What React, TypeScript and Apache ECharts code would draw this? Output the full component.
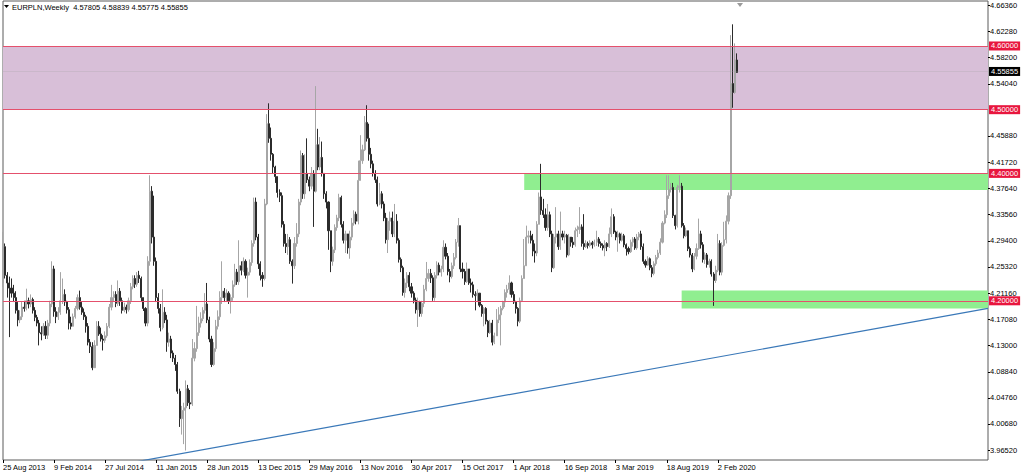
import React, { useEffect, useRef } from 'react';
import * as echarts from 'echarts';

const START_DATE = Date.UTC(2013, 7, 25);
const N_SLOTS = 464;
const MONTHS = ['Jan', 'Feb', 'Mar', 'Apr', 'May', 'Jun', 'Jul', 'Aug', 'Sep', 'Oct', 'Nov', 'Dec'];
const OPEN0 = 4.228;

const CLOSE = [
  4.285, 4.240, 4.228, 4.220, 4.212, 4.205, 4.185, 4.170, 4.175, 4.190,
  4.188, 4.200, 4.195, 4.202, 4.185, 4.174, 4.165, 4.150, 4.148, 4.160,
  4.146, 4.165, 4.195, 4.250, 4.183, 4.175, 4.182, 4.200, 4.210, 4.198,
  4.186, 4.165, 4.160, 4.175, 4.188, 4.205, 4.190, 4.182, 4.175, 4.160,
  4.135, 4.128, 4.095, 4.130, 4.160, 4.148, 4.140, 4.138, 4.145, 4.160,
  4.190, 4.205, 4.210, 4.196, 4.215, 4.200, 4.185, 4.190, 4.186, 4.200,
  4.222, 4.235, 4.226, 4.240, 4.235, 4.205, 4.188, 4.165, 4.262, 4.372,
  4.300, 4.262, 4.205, 4.188, 4.158, 4.182, 4.170, 4.135, 4.140, 4.118,
  4.110, 4.100, 4.058, 4.015, 4.028, 4.032, 4.062, 4.040, 4.038, 4.110,
  4.125, 4.150, 4.165, 4.172, 4.185, 4.195, 4.170, 4.140, 4.100, 4.125,
  4.160, 4.175, 4.205, 4.215, 4.205, 4.212, 4.200, 4.205, 4.225, 4.245,
  4.230, 4.255, 4.248, 4.262, 4.240, 4.245, 4.260, 4.290, 4.355, 4.300,
  4.258, 4.240, 4.235, 4.352, 4.478, 4.455, 4.430, 4.410, 4.395, 4.370,
  4.365, 4.320, 4.290, 4.285, 4.296, 4.262, 4.255, 4.290, 4.305, 4.355,
  4.428, 4.368, 4.400, 4.390, 4.380, 4.400, 4.372, 4.445, 4.410, 4.425,
  4.400, 4.368, 4.355, 4.310, 4.262, 4.280, 4.315, 4.330, 4.362, 4.320,
  4.295, 4.305, 4.283, 4.300, 4.322, 4.336, 4.325, 4.389, 4.420, 4.437,
  4.480, 4.455, 4.430, 4.415, 4.400, 4.390, 4.352, 4.368, 4.352, 4.330,
  4.296, 4.325, 4.330, 4.305, 4.325, 4.295, 4.265, 4.252, 4.213, 4.228,
  4.240, 4.222, 4.212, 4.201, 4.186, 4.198, 4.180, 4.196, 4.218, 4.235,
  4.243, 4.236, 4.205, 4.240, 4.256, 4.245, 4.250, 4.284, 4.270, 4.246,
  4.238, 4.255, 4.268, 4.292, 4.318, 4.250, 4.246, 4.230, 4.250, 4.228,
  4.225, 4.210, 4.208, 4.212, 4.193, 4.180, 4.188, 4.168, 4.150, 4.165,
  4.135, 4.145, 4.170, 4.178, 4.188, 4.198, 4.213, 4.218, 4.228, 4.210,
  4.198, 4.188, 4.168, 4.200, 4.235, 4.255, 4.300, 4.302, 4.295, 4.278,
  4.275, 4.320, 4.363, 4.342, 4.335, 4.315, 4.335, 4.305, 4.252, 4.300,
  4.305, 4.285, 4.305, 4.300, 4.303, 4.272, 4.300, 4.292, 4.288, 4.310,
  4.312, 4.316, 4.290, 4.285, 4.290, 4.287, 4.291, 4.288, 4.292, 4.297,
  4.290, 4.287, 4.283, 4.290, 4.285, 4.305, 4.332, 4.308, 4.300, 4.305,
  4.295, 4.302, 4.288, 4.282, 4.277, 4.292, 4.297, 4.283, 4.300, 4.305,
  4.285, 4.262, 4.256, 4.266, 4.252, 4.243, 4.258, 4.268, 4.275, 4.292,
  4.322, 4.335, 4.365, 4.375, 4.378, 4.334, 4.318, 4.378, 4.380, 4.318,
  4.302, 4.310, 4.282, 4.272, 4.250, 4.270, 4.282, 4.305, 4.288, 4.265,
  4.272, 4.257, 4.262, 4.242, 4.232, 4.248, 4.290, 4.245, 4.287, 4.296,
  4.325, 4.365, 4.541, 4.527, 4.578, 4.55855,
];

const HIGH = [
  4.308, 4.290, 4.245, 4.238, 4.235, 4.225, 4.215, 4.198, 4.185, 4.198,
  4.200, 4.219, 4.205, 4.210, 4.205, 4.190, 4.178, 4.170, 4.160, 4.165,
  4.168, 4.170, 4.200, 4.262, 4.255, 4.190, 4.190, 4.245, 4.235, 4.218,
  4.200, 4.190, 4.175, 4.180, 4.192, 4.210, 4.216, 4.198, 4.188, 4.178,
  4.165, 4.140, 4.135, 4.138, 4.168, 4.168, 4.158, 4.146, 4.152, 4.165,
  4.195, 4.225, 4.215, 4.215, 4.232, 4.220, 4.205, 4.197, 4.194, 4.205,
  4.228, 4.240, 4.240, 4.245, 4.247, 4.238, 4.200, 4.190, 4.270, 4.397,
  4.380, 4.365, 4.268, 4.212, 4.195, 4.218, 4.190, 4.178, 4.150, 4.145,
  4.122, 4.115, 4.104, 4.062, 4.035, 4.040, 4.075, 4.068, 4.060, 4.140,
  4.135, 4.192, 4.175, 4.182, 4.190, 4.212, 4.228, 4.175, 4.145, 4.135,
  4.170, 4.185, 4.215, 4.262, 4.220, 4.218, 4.215, 4.210, 4.232, 4.258,
  4.250, 4.295, 4.262, 4.268, 4.265, 4.252, 4.265, 4.295, 4.362, 4.362,
  4.305, 4.262, 4.245, 4.360, 4.493, 4.510, 4.472, 4.432, 4.412, 4.395,
  4.375, 4.370, 4.325, 4.305, 4.305, 4.300, 4.265, 4.300, 4.322, 4.360,
  4.436, 4.432, 4.430, 4.455, 4.395, 4.410, 4.405, 4.537, 4.470, 4.457,
  4.450, 4.400, 4.372, 4.356, 4.300, 4.285, 4.320, 4.335, 4.368, 4.365,
  4.325, 4.310, 4.305, 4.310, 4.330, 4.342, 4.340, 4.420, 4.460, 4.445,
  4.490, 4.507, 4.478, 4.440, 4.420, 4.405, 4.395, 4.385, 4.372, 4.356,
  4.338, 4.330, 4.340, 4.340, 4.352, 4.336, 4.298, 4.268, 4.255, 4.235,
  4.245, 4.245, 4.228, 4.215, 4.205, 4.205, 4.200, 4.200, 4.225, 4.261,
  4.250, 4.250, 4.240, 4.245, 4.262, 4.260, 4.255, 4.295, 4.290, 4.275,
  4.250, 4.260, 4.275, 4.297, 4.330, 4.310, 4.260, 4.250, 4.260, 4.250,
  4.235, 4.230, 4.215, 4.218, 4.210, 4.195, 4.190, 4.190, 4.170, 4.170,
  4.170, 4.150, 4.187, 4.190, 4.192, 4.200, 4.218, 4.225, 4.240, 4.230,
  4.215, 4.200, 4.190, 4.205, 4.240, 4.297, 4.318, 4.310, 4.310, 4.305,
  4.290, 4.325, 4.370, 4.415, 4.360, 4.345, 4.352, 4.340, 4.310, 4.305,
  4.347, 4.310, 4.340, 4.310, 4.310, 4.305, 4.305, 4.300, 4.300, 4.315,
  4.318, 4.347, 4.320, 4.336, 4.295, 4.293, 4.295, 4.294, 4.296, 4.310,
  4.300, 4.293, 4.290, 4.295, 4.292, 4.315, 4.345, 4.336, 4.310, 4.310,
  4.307, 4.307, 4.305, 4.290, 4.285, 4.296, 4.300, 4.300, 4.305, 4.308,
  4.310, 4.290, 4.265, 4.270, 4.268, 4.256, 4.262, 4.272, 4.280, 4.298,
  4.325, 4.342, 4.397, 4.397, 4.385, 4.385, 4.335, 4.382, 4.397, 4.385,
  4.322, 4.315, 4.310, 4.285, 4.275, 4.275, 4.290, 4.329, 4.310, 4.292,
  4.276, 4.275, 4.266, 4.265, 4.245, 4.255, 4.305, 4.295, 4.292, 4.324,
  4.334, 4.370, 4.617, 4.634, 4.604, 4.58839,
];

const LOW = [
  4.222, 4.235, 4.205, 4.143, 4.205, 4.198, 4.180, 4.160, 4.165, 4.170,
  4.183, 4.185, 4.188, 4.190, 4.180, 4.168, 4.160, 4.130, 4.138, 4.145,
  4.140, 4.140, 4.160, 4.190, 4.175, 4.165, 4.170, 4.178, 4.195, 4.192,
  4.180, 4.155, 4.155, 4.160, 4.172, 4.185, 4.186, 4.178, 4.170, 4.150,
  4.130, 4.118, 4.091, 4.098, 4.132, 4.145, 4.136, 4.122, 4.134, 4.142,
  4.157, 4.185, 4.198, 4.190, 4.192, 4.192, 4.180, 4.182, 4.180, 4.183,
  4.195, 4.218, 4.220, 4.222, 4.228, 4.198, 4.184, 4.160, 4.160, 4.255,
  4.290, 4.255, 4.198, 4.180, 4.152, 4.155, 4.165, 4.120, 4.128, 4.110,
  4.104, 4.090, 4.054, 4.002, 3.990, 3.975, 3.965, 4.035, 4.030, 4.035,
  4.105, 4.120, 4.145, 4.158, 4.168, 4.180, 4.165, 4.135, 4.096, 4.098,
  4.120, 4.155, 4.170, 4.195, 4.198, 4.198, 4.195, 4.180, 4.200, 4.222,
  4.225, 4.225, 4.240, 4.245, 4.235, 4.205, 4.240, 4.255, 4.285, 4.295,
  4.250, 4.232, 4.222, 4.232, 4.350, 4.448, 4.420, 4.400, 4.385, 4.362,
  4.355, 4.315, 4.285, 4.275, 4.272, 4.258, 4.227, 4.250, 4.285, 4.300,
  4.350, 4.360, 4.360, 4.385, 4.372, 4.375, 4.316, 4.370, 4.405, 4.405,
  4.395, 4.360, 4.345, 4.280, 4.245, 4.255, 4.275, 4.310, 4.325, 4.315,
  4.290, 4.275, 4.274, 4.266, 4.295, 4.318, 4.320, 4.320, 4.390, 4.415,
  4.435, 4.450, 4.420, 4.408, 4.395, 4.385, 4.348, 4.350, 4.345, 4.325,
  4.290, 4.275, 4.310, 4.300, 4.300, 4.290, 4.260, 4.245, 4.208, 4.205,
  4.220, 4.215, 4.205, 4.196, 4.180, 4.159, 4.175, 4.175, 4.190, 4.215,
  4.230, 4.228, 4.200, 4.200, 4.235, 4.240, 4.238, 4.245, 4.265, 4.240,
  4.229, 4.235, 4.250, 4.265, 4.285, 4.245, 4.235, 4.225, 4.228, 4.225,
  4.213, 4.205, 4.185, 4.198, 4.190, 4.175, 4.160, 4.163, 4.143, 4.148,
  4.130, 4.132, 4.145, 4.165, 4.130, 4.185, 4.190, 4.205, 4.210, 4.205,
  4.195, 4.180, 4.160, 4.165, 4.198, 4.240, 4.255, 4.290, 4.290, 4.270,
  4.260, 4.270, 4.320, 4.335, 4.330, 4.310, 4.310, 4.300, 4.245, 4.250,
  4.290, 4.280, 4.280, 4.295, 4.290, 4.268, 4.270, 4.285, 4.283, 4.285,
  4.300, 4.305, 4.285, 4.280, 4.283, 4.282, 4.284, 4.282, 4.285, 4.286,
  4.285, 4.283, 4.279, 4.270, 4.278, 4.283, 4.300, 4.305, 4.295, 4.277,
  4.290, 4.293, 4.284, 4.271, 4.273, 4.275, 4.285, 4.280, 4.280, 4.295,
  4.280, 4.258, 4.252, 4.255, 4.248, 4.237, 4.240, 4.255, 4.265, 4.272,
  4.290, 4.320, 4.330, 4.360, 4.370, 4.330, 4.312, 4.315, 4.370, 4.315,
  4.298, 4.300, 4.278, 4.268, 4.245, 4.248, 4.265, 4.280, 4.282, 4.260,
  4.258, 4.252, 4.252, 4.238, 4.192, 4.228, 4.245, 4.240, 4.240, 4.285,
  4.290, 4.320, 4.360, 4.503, 4.525, 4.55775,
];

const X_TICK_LABELS = [
  '25 Aug 2013', '9 Feb 2014', '27 Jul 2014', '11 Jan 2015', '28 Jun 2015',
  '13 Dec 2015', '29 May 2016', '13 Nov 2016', '30 Apr 2017', '15 Oct 2017',
  '1 Apr 2018', '16 Sep 2018', '3 Mar 2019', '18 Aug 2019', '2 Feb 2020',
];
const X_TICK_STEP = 24;
const Y_TICK_VALUES = [
  4.6636, 4.6228, 4.582, 4.5404, 4.4588, 4.4172, 4.3764, 4.3356, 4.294,
  4.2532, 4.2116, 4.1708, 4.13, 4.0884, 4.0476, 4.0068, 3.9652,
];
const Y_MIN = 3.9501;
const Y_MAX = 4.6706;
const LEVELS = [4.6, 4.5, 4.4, 4.2];
const LAST_PRICE = 4.55855;
const PINK_ZONE = [4.6, 4.5];
const GREEN_ZONES = [
  { fromIndex: 245, top: 4.4, bottom: 4.374 },
  { fromIndex: 319, top: 4.216, bottom: 4.188 },
];
const TREND = [
  { index: 62, value: 3.947 },
  { index: 463, value: 4.188 },
];
const HEADER = 'EURPLN,Weekly  4.57805 4.58839 4.55775 4.55855';

const FONT = '"Liberation Sans", Arial, sans-serif';

function buildCategories(): string[] {
  const out: string[] = [];
  for (let k = 0; k < N_SLOTS; k++) {
    const d = new Date(START_DATE + k * 7 * 86400000);
    out.push(`${d.getUTCDate()} ${MONTHS[d.getUTCMonth()]} ${d.getUTCFullYear()}`);
  }
  return out;
}

export default function App() {
  const ref = useRef<HTMLDivElement>(null);

  useEffect(() => {
    if (!ref.current) return;
    const chart = echarts.init(ref.current, null, { renderer: 'svg' });
    const categories = buildCategories();
    const candles = CLOSE.map((c, i) => {
      const o = i === 0 ? OPEN0 : CLOSE[i - 1];
      return [o, c, Math.min(LOW[i], o, c), Math.max(HIGH[i], o, c)];
    });
    const lastCat = categories[N_SLOTS - 1];
    const isTick = (idx: number) => idx % X_TICK_STEP === 0 && idx / X_TICK_STEP < X_TICK_LABELS.length;

    const option: any = {
      animation: false,
      backgroundColor: '#ffffff',
      grid: {
        left: 2, top: 1, width: 986, height: 459,
        show: true, borderColor: '#5a5a5a', borderWidth: 1, backgroundColor: '#ffffff',
      },
      xAxis: {
        type: 'category',
        data: categories,
        boundaryGap: false,
        axisLine: { show: false },
        splitLine: { show: false },
        axisTick: {
          show: true, interval: (idx: number) => isTick(idx), length: 3,
          lineStyle: { color: '#000', width: 1 },
        },
        axisLabel: {
          interval: (idx: number) => isTick(idx),
          formatter: (_v: string, idx: number) => (isTick(idx) ? X_TICK_LABELS[idx / X_TICK_STEP] : ''),
          align: 'left', fontSize: 7.5, fontFamily: FONT, color: '#000', margin: 3,
        },
      },
      yAxis: {
        type: 'value',
        position: 'right',
        min: Y_MIN,
        max: Y_MAX,
        scale: true,
        splitLine: { show: false },
        axisLine: { show: false },
        axisTick: {
          show: true, customValues: Y_TICK_VALUES, length: 2,
          lineStyle: { color: '#000', width: 1 },
        },
        axisLabel: {
          customValues: Y_TICK_VALUES,
          formatter: (v: number) => Number(v).toFixed(5),
          fontSize: 7.5, fontFamily: FONT, color: '#000', margin: 2,
        },
      },
      series: [
        {
          name: 'zones',
          type: 'line',
          data: [],
          z: 1,
          silent: true,
          markArea: {
            silent: true,
            data: [
              [
                { yAxis: PINK_ZONE[0], itemStyle: { color: '#d8bfd8', opacity: 1 } },
                { yAxis: PINK_ZONE[1] },
              ],
              ...GREEN_ZONES.map((g) => [
                { xAxis: categories[g.fromIndex], yAxis: g.top, itemStyle: { color: '#90ee90', opacity: 1 } },
                { xAxis: lastCat, yAxis: g.bottom },
              ]),
            ],
          },
        },
        {
          name: 'levels',
          type: 'line',
          data: [],
          z: 2,
          silent: true,
          markLine: {
            silent: true,
            symbol: ['none', 'none'],
            animation: false,
            data: [
              ...LEVELS.map((lv) => ({
                yAxis: lv,
                lineStyle: { color: '#e4506c', width: 1, type: 'solid' },
                label: {
                  show: true, position: 'end', distance: 1,
                  formatter: () => lv.toFixed(5),
                  backgroundColor: '#e8163e', color: '#ffffff',
                  padding: [1, 2, 0, 2], fontSize: 7.5, fontFamily: FONT,
                },
              })),
              {
                yAxis: LAST_PRICE,
                lineStyle: { color: 'rgba(160,160,160,0.25)', width: 1, type: 'solid' },
                label: {
                  show: true, position: 'end', distance: 1,
                  formatter: () => LAST_PRICE.toFixed(5),
                  backgroundColor: '#000000', color: '#ffffff',
                  padding: [1, 2, 0, 2], fontSize: 7.5, fontFamily: FONT,
                },
              },
            ],
          },
        },
        {
          name: 'EURPLN',
          type: 'candlestick',
          data: candles,
          z: 3,
          barWidth: 1.6,
          itemStyle: {
            color: '#a6a6a6',
            color0: '#2b2b2b',
            borderColor: '#a6a6a6',
            borderColor0: '#2b2b2b',
            borderWidth: 1,
          },
        },
        {
          name: 'trend',
          type: 'line',
          z: 4,
          silent: true,
          showSymbol: false,
          symbol: 'none',
          clip: true,
          data: TREND.map((t) => [categories[t.index], t.value]),
          lineStyle: { color: '#3a78b8', width: 1.2 },
        },
      ],
      graphic: [
        {
          type: 'polygon',
          shape: { points: [[4, 5], [9, 5], [6.5, 8]] },
          style: { fill: '#000' },
        },
        {
          type: 'text',
          x: 12, y: 3,
          style: { text: HEADER, fontSize: 7.5, fontFamily: FONT, fill: '#000' },
        },
        {
          type: 'polygon',
          shape: { points: [[737, 3], [743, 3], [740, 7]] },
          style: { fill: '#9a9a9a' },
        },
      ],
    };
    chart.setOption(option);
    return () => chart.dispose();
  }, []);

  return (
    <div
      ref={ref}
      style={{ position: 'fixed', left: 0, top: 0, width: 1024, height: 474, background: '#ffffff' }}
    />
  );
}
